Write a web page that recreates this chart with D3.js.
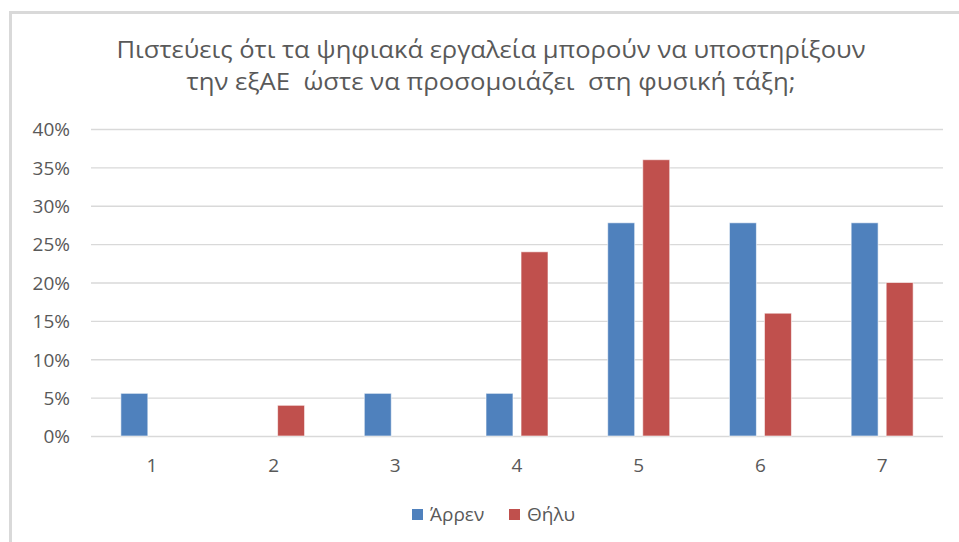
<!DOCTYPE html>
<html>
<head>
<meta charset="utf-8">
<script src="https://cdn.jsdelivr.net/npm/d3@7"></script>
<style>
  body { margin: 0; background: #fff; }
  text { font-family: "Open Sans", "DejaVu Sans", sans-serif; fill: #595959; }
</style>
</head>
<body>
<svg width="959" height="542"></svg>
<script>
// Data
var categories = ['1', '2', '3', '4', '5', '6', '7'];
var seriesNames = ['Άρρεν', 'Θήλυ'];
var maleValues = [0.0556, 0, 0.0556, 0.0556, 0.2778, 0.2778, 0.2778];
var femaleValues = [0, 0.04, 0, 0.24, 0.36, 0.16, 0.20];
var yTicks = [0, 0.05, 0.10, 0.15, 0.20, 0.25, 0.30, 0.35, 0.40];
var titleLines = ['Πιστεύεις ότι τα ψηφιακά εργαλεία μπορούν να υποστηρίξουν',
                  'την εξΑΕ  ώστε να προσομοιάζει  στη φυσική τάξη;'];
var colors = ['#4F81BD', '#C0504D'];

var svg = d3.select('svg');

// Chart frame (light border on top and left)
svg.append('path')
    .attr('d', 'M10.5,542 V12.5 H959')
    .attr('fill', 'none')
    .attr('stroke', '#D9D9D9')
    .attr('stroke-width', 3);

// Title
var titleG = svg.append('g');
titleG.selectAll('text')
    .data(titleLines)
    .enter()
    .append('text')
    .attr('x', 491)
    .attr('y', function(d, i) { return 58 + i * 32; })
    .attr('text-anchor', 'middle')
    .attr('font-size', 23)
    .attr('textLength', function(d, i) { return i === 0 ? 749 : 609; })
    .attr('lengthAdjust', 'spacingAndGlyphs')
    .style('white-space', 'pre')
    .text(function(d) { return d; });

// Scales
var xScale = d3.scaleBand()
    .domain(categories)
    .range([91, 943]);

var x1 = d3.scaleBand()
    .domain(seriesNames)
    .range([-31, 31])
    .paddingInner(0.23);

var yScale = d3.scaleLinear()
    .domain([0, 0.4])
    .range([436, 129]);

// Gridlines
svg.append('g')
    .attr('class', 'grid')
    .attr('transform', 'translate(91,0)')
    .call(d3.axisLeft(yScale)
        .tickValues(yTicks)
        .tickSize(-852)
        .tickFormat(''))
    .call(function(g) {
        g.select('.domain').remove();
        g.selectAll('line').attr('stroke', '#D9D9D9').attr('stroke-width', 1.3);
    });

// Y axis labels
svg.append('g')
    .attr('transform', 'translate(70,0)')
    .call(d3.axisLeft(yScale)
        .tickValues(yTicks)
        .tickSize(0)
        .tickPadding(0)
        .tickFormat(d3.format('.0%')))
    .call(function(g) {
        g.select('.domain').remove();
        g.selectAll('text')
            .attr('font-size', 19)
            .attr('font-family', null)
            .attr('fill', null)
            .attr('dy', '0.36em');
    });

// X axis labels
svg.append('g')
    .attr('transform', 'translate(0,436)')
    .call(d3.axisBottom(xScale).tickSize(0).tickPadding(0))
    .call(function(g) {
        g.select('.domain').remove();
        g.selectAll('text')
            .attr('font-size', 19)
            .attr('font-family', null)
            .attr('fill', null)
            .attr('dy', null)
            .attr('y', 36);
    });

// Bars
var rows = categories.map(function(c, i) {
    return {cat: c, values: [
        {name: seriesNames[0], value: maleValues[i], color: colors[0]},
        {name: seriesNames[1], value: femaleValues[i], color: colors[1]}
    ]};
});

var groups = svg.append('g').selectAll('.group')
    .data(rows)
    .enter()
    .append('g')
    .attr('class', 'group')
    .attr('transform', function(d) {
        return 'translate(' + (xScale(d.cat) + xScale.bandwidth() / 2) + ',0)';
    });

groups.selectAll('rect')
    .data(function(d) { return d.values.filter(function(v) { return v.value > 0; }); })
    .enter()
    .append('rect')
    .attr('x', function(d) { return x1(d.name); })
    .attr('y', function(d) { return yScale(d.value); })
    .attr('width', x1.bandwidth())
    .attr('height', function(d) { return yScale(0) - yScale(d.value); })
    .attr('fill', function(d) { return d.color; })
    .attr('stroke', 'rgba(255,255,255,0.6)')
    .attr('stroke-width', 1);

// Legend
var legendX = [412, 509];
var legend = svg.append('g').selectAll('.legend')
    .data(seriesNames)
    .enter()
    .append('g')
    .attr('class', 'legend')
    .attr('transform', function(d, i) { return 'translate(' + legendX[i] + ',509)'; });

legend.append('rect')
    .attr('width', 11)
    .attr('height', 11)
    .attr('fill', function(d, i) { return colors[i]; });

legend.append('text')
    .attr('x', 18)
    .attr('y', 12)
    .attr('font-size', 19)
    .text(function(d) { return d; });
</script>
</body>
</html>
